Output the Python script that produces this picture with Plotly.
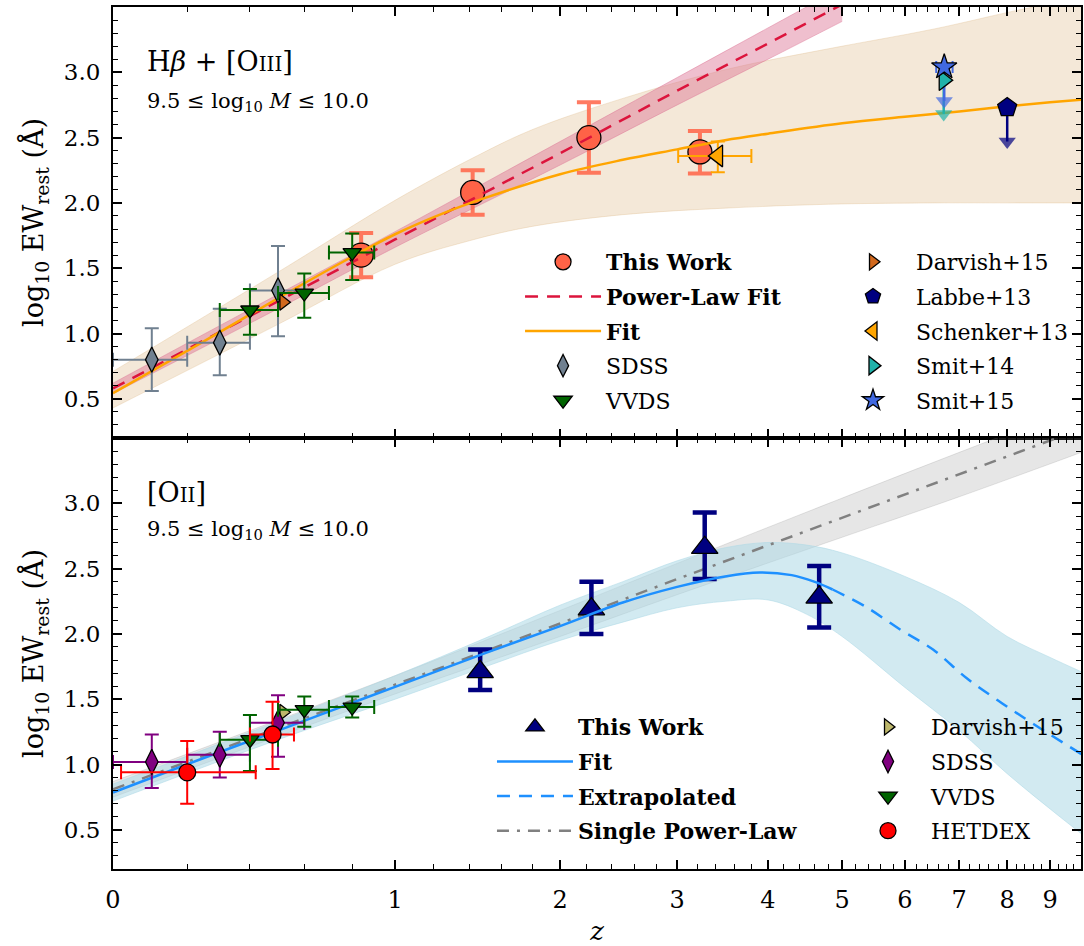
import plotly.graph_objects as go
from plotly.subplots import make_subplots

# ---------------- axis ticks ----------------
x_tick_labels = [0, 1, 2, 3, 4, 5, 6, 7, 8, 9]
x_minor_ticks = [round(0.2 * i, 1) for i in range(1, 50) if i % 5]
y_tick_vals = [0.5, 1.0, 1.5, 2.0, 2.5, 3.0]

# ---------------- TOP PANEL: Hbeta + [OIII] ----------------
hb_work_z = [0.84, 1.42, 2.22, 3.23]
hb_work_y = [1.60, 2.08, 2.50, 2.39]
hb_work_yhi = [1.77, 2.25, 2.77, 2.55]
hb_work_ylo = [1.43, 1.91, 2.23, 2.225]

# power-law fit and its band
hb_pl_z = [0, 0.5, 1, 2, 3, 4, 5]
hb_pl_y = [0.58, 1.25, 1.72, 2.38, 2.86, 3.22, 3.52]
hb_pl_lo = [0.54, 1.19, 1.66, 2.29, 2.75, 3.10, 3.39]
hb_pl_hi = [0.62, 1.30, 1.78, 2.47, 2.96, 3.34, 3.65]

# fit (orange) and band
hb_fit_z = [0, 0.25, 0.5, 0.75, 1, 1.25, 1.5, 2, 2.5, 3, 3.5, 4, 5, 6, 7, 8, 9, 9.8]
hb_fit_y = [0.544, 0.94, 1.27, 1.54, 1.76, 1.92, 2.04, 2.22, 2.33, 2.41, 2.48, 2.53, 2.61, 2.66, 2.70, 2.74, 2.77, 2.79]
hb_band_z = [0, 0.5, 1, 1.4, 1.8, 2.5, 3.5, 4.8, 6.5, 8.3, 9.8]
hb_band_hi = [0.71, 1.47, 2.02, 2.33, 2.56, 2.80, 3.02, 3.18, 3.33, 3.48, 3.57]
hb_band_lo = [0.43, 1.07, 1.53, 1.71, 1.82, 1.91, 1.96, 1.99, 2.0, 2.0, 2.0]

hb_sdss_z = [0.10, 0.30, 0.50]
hb_sdss_zlo = [0.0, 0.20, 0.40]
hb_sdss_zhi = [0.20, 0.40, 0.60]
hb_sdss_y = [0.80, 0.93, 1.33]
hb_sdss_yhi = [1.04, 1.19, 1.67]
hb_sdss_ylo = [0.56, 0.68, 0.98]

hb_vvds_z = [0.40, 0.60, 0.80]
hb_vvds_zlo = [0.30, 0.50, 0.70]
hb_vvds_zhi = [0.50, 0.70, 0.90]
hb_vvds_y = [1.18, 1.31, 1.62]
hb_vvds_yhi = [1.34, 1.46, 1.765]
hb_vvds_ylo = [0.99, 1.12, 1.41]

hb_darvish_z = [0.52]
hb_darvish_y = [1.24]

hb_schenker_z = [3.42]
hb_schenker_zlo = [3.01]
hb_schenker_zhi = [3.80]
hb_schenker_y = [2.36]
hb_schenker_yhi = [2.47]
hb_schenker_ylo = [2.235]

hb_smit14_z = [6.70]
hb_smit14_y = [2.94]
hb_smit14_lim = [2.68]

hb_smit15_z = [6.71]
hb_smit15_zlo = [6.56]
hb_smit15_zhi = [6.87]
hb_smit15_y = [3.04]
hb_smit15_lim = [2.78]

hb_labbe_z = [8.0]
hb_labbe_y = [2.73]
hb_labbe_lim = [2.47]

# ---------------- BOTTOM PANEL: [OII] ----------------
o2_work_z = [1.465, 2.24, 3.28, 4.67]
o2_work_y = [1.71, 2.19, 2.66, 2.28]
o2_work_yhi = [1.88, 2.40, 2.93, 2.52]
o2_work_ylo = [1.57, 2.00, 2.42, 2.05]

o2_fit_z = [0, 0.25, 0.5, 0.75, 1, 1.5, 2, 2.5, 3, 3.5, 3.9, 4.3, 4.6, 4.86]
o2_fit_y = [0.786, 1.05, 1.26, 1.44, 1.595, 1.855, 2.06, 2.24, 2.36, 2.44, 2.47, 2.45, 2.40, 2.34]
o2_ext_z = [4.86, 5.35, 5.93, 6.5, 7.15, 7.8, 8.6, 9.8]
o2_ext_y = [2.34, 2.21, 2.03, 1.88, 1.66, 1.49, 1.31, 1.08]
o2_band_z = [0, 0.5, 1, 1.5, 2, 2.5, 3, 3.5, 4, 4.5, 5, 6, 7, 8, 9, 9.8]
o2_band_lo = [0.72, 1.19, 1.50, 1.75, 1.95, 2.09, 2.20, 2.25, 2.26, 2.15, 1.98, 1.59, 1.26, 0.93, 0.66, 0.47]
o2_band_hi = [0.85, 1.33, 1.68, 1.97, 2.22, 2.40, 2.56, 2.66, 2.70, 2.68, 2.62, 2.44, 2.24, 1.98, 1.82, 1.71]

o2_spl_z = [0, 1, 2, 3, 5, 7, 9.8]
o2_spl_y = [0.81, 1.61, 2.08, 2.42, 2.89, 3.22, 3.57]
o2_spl_lo = [0.75, 1.54, 1.98, 2.30, 2.74, 3.05, 3.39]
o2_spl_hi = [0.87, 1.68, 2.18, 2.54, 3.04, 3.39, 3.75]

o2_darvish_z = [0.52]
o2_darvish_y = [1.40]

o2_sdss_z = [0.10, 0.30, 0.50]
o2_sdss_zlo = [0.0, 0.20, 0.40]
o2_sdss_zhi = [0.20, 0.40, 0.60]
o2_sdss_y = [1.02, 1.075, 1.32]
o2_sdss_yhi = [1.23, 1.25, 1.53]
o2_sdss_ylo = [0.82, 0.90, 1.06]

o2_vvds_z = [0.40, 0.60, 0.80]
o2_vvds_zlo = [0.30, 0.50, 0.70]
o2_vvds_zhi = [0.50, 0.70, 0.90]
o2_vvds_y = [1.19, 1.42, 1.44]
o2_vvds_yhi = [1.38, 1.52, 1.52]
o2_vvds_ylo = [0.95, 1.29, 1.36]

o2_het_z = [0.20, 0.48]
o2_het_zlo = [0.02, 0.40]
o2_het_zhi = [0.42, 0.56]
o2_het_y = [0.94, 1.23]
o2_het_yhi = [1.18, 1.48]
o2_het_ylo = [0.70, 0.965]

# ---------------- helpers ----------------
FONT = "DejaVu Serif"


def zp(zs):
    return [1 + z for z in zs]


def errs(v, hi, lo):
    return [h - x for x, h in zip(v, hi)], [x - l for x, l in zip(v, lo)]


fig = make_subplots(rows=2, cols=1, shared_xaxes=True, vertical_spacing=0)


def band(z, lo, hi, color, row):
    fig.add_trace(go.Scatter(x=zp(z), y=lo, mode="lines", line=dict(width=1, color=color, shape="spline"),
                             showlegend=False, hoverinfo="skip"), row=row, col=1)
    fig.add_trace(go.Scatter(x=zp(z), y=hi, mode="lines", line=dict(width=1, color=color, shape="spline"),
                             fill="tonexty", fillcolor=color, showlegend=False, hoverinfo="skip"),
                  row=row, col=1)


def points(z, y, name, symbol, size, color, row, legend, yhi=None, ylo=None, zlo=None, zhi=None,
           ecolor=None, ethick=2, ewidth=7):
    kw = {}
    ec = ecolor or color
    if yhi is not None:
        a, am = errs(y, yhi, ylo)
        kw["error_y"] = dict(type="data", symmetric=False, array=a, arrayminus=am,
                             color=ec, thickness=ethick, width=ewidth)
    if zlo is not None:
        a, am = errs(z, zhi, zlo)
        kw["error_x"] = dict(type="data", symmetric=False, array=a, arrayminus=am,
                             color=ec, thickness=ethick, width=ewidth)
    fig.add_trace(go.Scatter(x=zp(z), y=y, mode="markers", name=name,
                             marker=dict(symbol=symbol, size=size, color=color,
                                         line=dict(color="black", width=1.3)),
                             legend=legend, legendgroup=name, **kw), row=row, col=1)


def uplim(z, y, lim, color, row):
    for zz, yy, ll in zip(z, y, lim):
        fig.add_trace(go.Scatter(x=[1 + zz, 1 + zz], y=[yy, ll], mode="lines+markers",
                                 line=dict(color=color, width=2.5),
                                 marker=dict(symbol="triangle-down", size=[0, 15], color=color,
                                             line=dict(width=0)),
                                 showlegend=False, hoverinfo="skip"), row=row, col=1)


def line(z, y, name, color, dash, row, legend, show=True, shape="spline"):
    fig.add_trace(go.Scatter(x=zp(z), y=y, mode="lines", name=name,
                             line=dict(color=color, width=2.5, dash=dash, shape=shape),
                             showlegend=show, legend=legend, legendgroup=name), row=row, col=1)


# ---------------- top panel ----------------
band(hb_band_z, hb_band_lo, hb_band_hi, "rgba(222,184,135,0.32)", 1)
band(hb_pl_z, hb_pl_lo, hb_pl_hi, "rgba(219,112,147,0.45)", 1)

points(hb_work_z, hb_work_y, "<b>This Work</b>", "circle", 24, "#FF6347", 1, "legend",
       yhi=hb_work_yhi, ylo=hb_work_ylo, ecolor="rgba(255,99,71,0.85)", ethick=4, ewidth=12)
line(hb_pl_z, hb_pl_y, "<b>Power-Law Fit</b>", "#DC143C", "13px,9px", 1, "legend", shape="linear")
line(hb_fit_z, hb_fit_y, "<b>Fit</b>", "#FFA500", "solid", 1, "legend")
points(hb_sdss_z, hb_sdss_y, "SDSS", "diamond-tall", 18, "#708090", 1, "legend",
       yhi=hb_sdss_yhi, ylo=hb_sdss_ylo, zlo=hb_sdss_zlo, zhi=hb_sdss_zhi)
points(hb_vvds_z, hb_vvds_y, "VVDS", "triangle-down", 16, "#006400", 1, "legend",
       yhi=hb_vvds_yhi, ylo=hb_vvds_ylo, zlo=hb_vvds_zlo, zhi=hb_vvds_zhi)

points(hb_darvish_z, hb_darvish_y, "Darvish+15", "triangle-right", 14, "#D2691E", 1, "legend2")
uplim(hb_labbe_z, hb_labbe_y, hb_labbe_lim, "#000080", 1)
points(hb_labbe_z, hb_labbe_y, "Labbe+13", "pentagon", 20, "#000080", 1, "legend2")
points(hb_schenker_z, hb_schenker_y, "Schenker+13", "triangle-left", 19, "#FFA500", 1, "legend2",
       yhi=hb_schenker_yhi, ylo=hb_schenker_ylo, zlo=hb_schenker_zlo, zhi=hb_schenker_zhi, ewidth=7)
uplim(hb_smit14_z, hb_smit14_y, hb_smit14_lim, "#20B2AA", 1)
uplim(hb_smit15_z, hb_smit15_y, hb_smit15_lim, "#4169E1", 1)
points(hb_smit14_z, hb_smit14_y, "Smit+14", "triangle-right", 18, "#20B2AA", 1, "legend2")
points(hb_smit15_z, hb_smit15_y, "Smit+15", "star", 19, "#4169E1", 1, "legend2",
       zlo=hb_smit15_zlo, zhi=hb_smit15_zhi, ewidth=6)

# ---------------- bottom panel ----------------
band(o2_spl_z, o2_spl_lo, o2_spl_hi, "rgba(128,128,128,0.2)", 2)
band(o2_band_z, o2_band_lo, o2_band_hi, "rgba(173,216,230,0.55)", 2)

line(o2_spl_z, o2_spl_y, "<b>Single Power-Law</b>", "#808080", "12px,8px,3px,8px", 2, "legend3",
     show=False, shape="linear")
points(o2_work_z, o2_work_y, "<b>This Work</b>", "triangle-up", 23, "#000080", 2, "legend3",
       yhi=o2_work_yhi, ylo=o2_work_ylo, ecolor="#000080", ethick=4.5, ewidth=12)
line(o2_fit_z, o2_fit_y, "<b>Fit</b>", "#1E90FF", "solid", 2, "legend3")
line(o2_ext_z, o2_ext_y, "<b>Extrapolated</b>", "#1E90FF", "13px,9px", 2, "legend3")
# legend-only entry for the single power-law (keeps legend order)
fig.add_trace(go.Scatter(x=[None], y=[None], mode="lines", name="<b>Single Power-Law</b>",
                         line=dict(color="#808080", width=2.5, dash="12px,8px,3px,8px"),
                         legend="legend3", legendgroup="spl"), row=2, col=1)

points(o2_darvish_z, o2_darvish_y, "Darvish+15", "triangle-right", 14, "#BDB76B", 2, "legend4")
points(o2_sdss_z, o2_sdss_y, "SDSS", "diamond-tall", 18, "#800080", 2, "legend4",
       yhi=o2_sdss_yhi, ylo=o2_sdss_ylo, zlo=o2_sdss_zlo, zhi=o2_sdss_zhi)
points(o2_vvds_z, o2_vvds_y, "VVDS", "triangle-down", 16, "#006400", 2, "legend4",
       yhi=o2_vvds_yhi, ylo=o2_vvds_ylo, zlo=o2_vvds_zlo, zhi=o2_vvds_zhi)
points(o2_het_z, o2_het_y, "HETDEX", "circle", 17, "#FF0000", 2, "legend4",
       yhi=o2_het_yhi, ylo=o2_het_ylo, zlo=o2_het_zlo, zhi=o2_het_zhi)

# ---------------- axes ----------------
xax = dict(type="log", range=[0, 1.033], automargin=False,
           tickmode="array", tickvals=zp(x_tick_labels), ticktext=[str(t) for t in x_tick_labels],
           ticks="inside", ticklen=9, tickwidth=1.5, tickcolor="black",
           showline=True, linewidth=2, linecolor="black", mirror="allticks",
           showgrid=False, zeroline=False,
           minor=dict(tickmode="array", tickvals=zp(x_minor_ticks), ticks="inside",
                      ticklen=5, tickwidth=1, tickcolor="black", showgrid=False),
           tickfont=dict(family=FONT, size=24, color="black"), ticklabelstandoff=8)
yax = dict(range=[0.2, 3.5], tickmode="array", tickvals=y_tick_vals, automargin=False,
           ticktext=[f"{v:.1f}" for v in y_tick_vals],
           ticks="inside", ticklen=9, tickwidth=1.5, tickcolor="black",
           showline=True, linewidth=2, linecolor="black", mirror="allticks",
           showgrid=False, zeroline=False,
           minor=dict(dtick=0.1, tick0=0.2, ticks="inside", ticklen=5, tickwidth=1,
                      tickcolor="black", showgrid=False),
           tickfont=dict(family=FONT, size=23, color="black"), ticklabelstandoff=6,
           title=dict(text="log<sub>10</sub> EW<sub>rest</sub> (Å)",
                      font=dict(family=FONT, size=27, color="black"), standoff=12))

fig.update_xaxes(**xax)
fig.update_xaxes(showticklabels=False, row=1, col=1)
fig.update_xaxes(title=dict(text="<i>z</i>", font=dict(family=FONT, size=26, color="black"),
                            standoff=20), row=2, col=1)
fig.update_yaxes(**yax)

leg_common = dict(font=dict(family=FONT, size=22, color="black"), bgcolor="rgba(0,0,0,0)",
                  borderwidth=0, xanchor="left", yanchor="top", tracegroupgap=3, itemwidth=76)

fig.update_layout(
    width=1084, height=946,
    margin=dict(l=113, r=3, t=7, b=77),
    paper_bgcolor="white", plot_bgcolor="white",
    font=dict(family=FONT, color="black"),
    legend=dict(x=0.4205, y=0.7285, **leg_common),
    legend2=dict(x=0.7407, y=0.7285, **leg_common),
    legend3=dict(x=0.3915, y=0.189, **leg_common),
    legend4=dict(x=0.7562, y=0.189, **leg_common),
    annotations=[
        dict(text="H<i>β</i> + [O<span style='font-size:20px'>III</span>]", xref="paper", yref="paper",
             x=0.033, y=0.937, xanchor="left", yanchor="middle", showarrow=False,
             font=dict(family=FONT, size=27, color="black")),
        dict(text="9.5 ≤ log<sub>10</sub> <i>M</i> ≤ 10.0", xref="paper", yref="paper",
             x=0.033, y=0.890, xanchor="left", yanchor="middle", showarrow=False,
             font=dict(family=FONT, size=21, color="black")),
        dict(text="[O<span style='font-size:20px'>II</span>]", xref="paper", yref="paper",
             x=0.033, y=0.437, xanchor="left", yanchor="middle", showarrow=False,
             font=dict(family=FONT, size=27, color="black")),
        dict(text="9.5 ≤ log<sub>10</sub> <i>M</i> ≤ 10.0", xref="paper", yref="paper",
             x=0.033, y=0.393, xanchor="left", yanchor="middle", showarrow=False,
             font=dict(family=FONT, size=21, color="black")),
    ],
)

fig.write_html("out.html", config={"displayModeBar": False},
               post_script="document.body.style.margin='0';document.body.style.overflow='hidden';")
